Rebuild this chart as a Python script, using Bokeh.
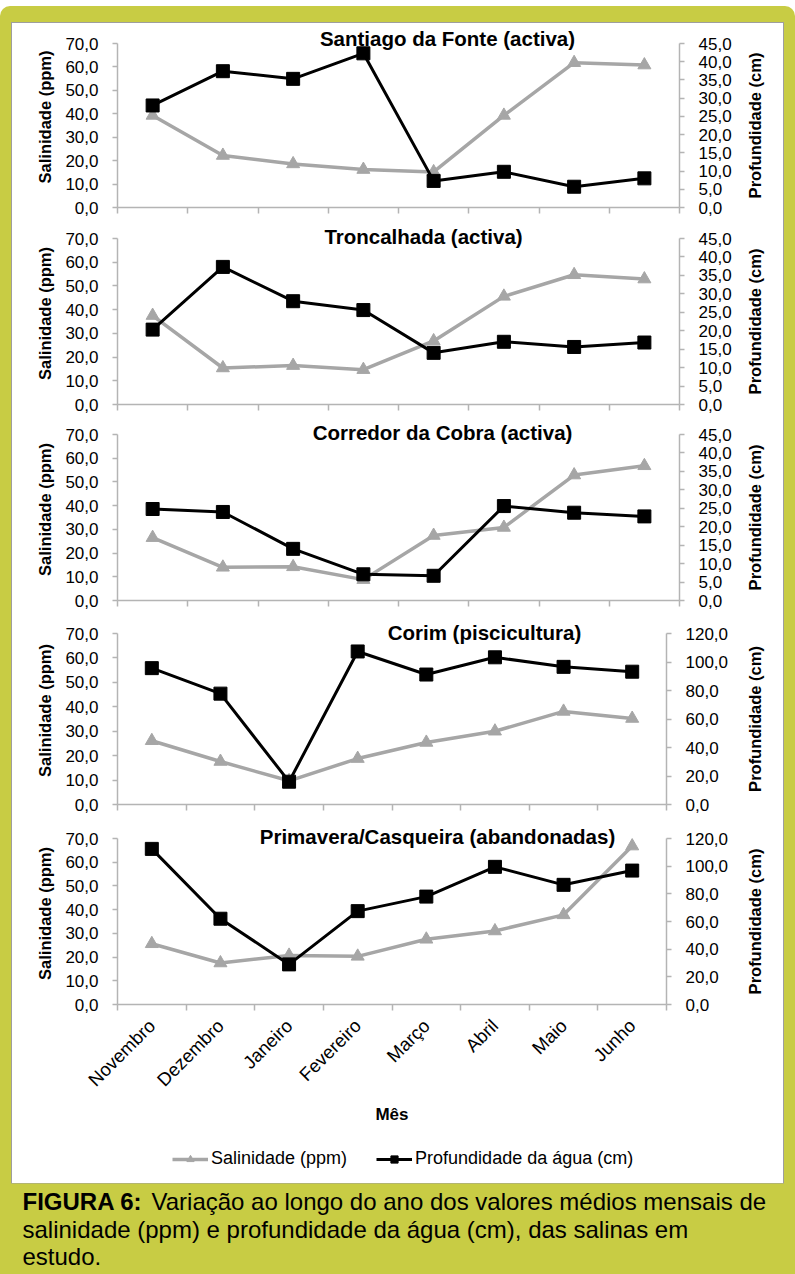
import math

from bokeh.embed import file_html
from bokeh.layouts import column, row
from bokeh.models import (ColumnDataSource, FixedTicker, Label, Legend, LegendItem,
                          LinearAxis, Range1d, Spacer)
from bokeh.plotting import figure
from bokeh.resources import INLINE

# ---------------------------------------------------------------- data
months = ["Novembro", "Dezembro", "Janeiro", "Fevereiro", "Março", "Abril", "Maio", "Junho"]

site_titles = [
    "Santiago da Fonte (activa)",
    "Troncalhada (activa)",
    "Corredor da Cobra (activa)",
    "Corim (piscicultura)",
    "Primavera/Casqueira (abandonadas)",
]

salinidade_santiago = [39.3, 22.2, 18.6, 16.2, 15.2, 39.3, 61.8, 60.8]
profundidade_santiago = [28.0, 37.4, 35.3, 42.3, 7.3, 9.8, 5.7, 8.0]

salinidade_troncalhada = [37.5, 15.4, 16.4, 14.7, 26.8, 45.6, 54.7, 52.9]
profundidade_troncalhada = [20.3, 37.3, 28.0, 25.6, 14.0, 17.0, 15.6, 16.8]

salinidade_corredor = [26.5, 14.0, 14.2, 8.8, 27.4, 30.8, 52.9, 56.8]
profundidade_corredor = [24.8, 24.0, 14.0, 7.1, 6.7, 25.6, 23.8, 22.8]

salinidade_corim = [26.1, 17.6, 9.7, 18.8, 25.4, 30.0, 38.1, 35.2]
profundidade_corim = [95.7, 77.8, 16.0, 107.4, 91.2, 103.3, 96.6, 93.2]

salinidade_primavera = [25.6, 17.5, 20.7, 20.3, 27.5, 31.0, 37.8, 66.8]
profundidade_primavera = [112.5, 62.0, 29.0, 67.5, 78.0, 99.5, 86.5, 96.8]

salinidade_ticks = [0, 10, 20, 30, 40, 50, 60, 70]
profundidade_ticks_45 = [0, 5, 10, 15, 20, 25, 30, 35, 40, 45]
profundidade_ticks_120 = [0, 20, 40, 60, 80, 100, 120]

legend_labels = ["Salinidade (ppm)", "Profundidade da água (cm)"]

caption_bold = "FIGURA 6:"
caption_lines = [
    "Variação ao longo do ano dos valores médios mensais de",
    "salinidade (ppm) e profundidade da água (cm), das salinas em",
    "estudo.",
]

# ---------------------------------------------------------------- style
GREEN = "#c8cc44"
GRAY = "#a6a6a6"
AXIS_GRAY = "#b4b4b4"
FONT = "Liberation Sans"
PANEL_W = 771            # white panel width
PANEL_LEFT = 12          # white panel left edge on the page
FRAME_LEFT = 105         # frame offset inside the white panel
RIGHT_BORDER = 61        # room for the right-hand tick labels
RLABEL_X = 754.5         # page x of the right axis title
X_CENTERS = [i + 0.5 for i in range(len(months))]


def fmt(v):
    return f"{v:.1f}".replace(".", ",")


def style_axis(ax, tick_out=5):
    ax.axis_line_color = AXIS_GRAY
    ax.axis_line_width = 1.5
    ax.major_tick_line_color = AXIS_GRAY
    ax.major_tick_line_width = 1.5
    ax.major_tick_out = tick_out
    ax.major_tick_in = 0
    ax.minor_tick_out = 0
    ax.minor_tick_in = 0
    ax.major_label_text_font = FONT
    ax.major_label_text_font_size = "17px"
    ax.major_label_text_color = "black"
    ax.major_label_standoff = 14


def blank_figure(width, height, fill, **borders):
    f = figure(width=width, height=height, x_range=Range1d(0, 1), y_range=Range1d(0, 1),
               x_axis_location=None, y_axis_location=None,
               toolbar_location=None, output_backend="svg", **borders)
    f.grid.visible = False
    f.outline_line_color = None
    f.background_fill_color = fill
    f.border_fill_color = fill
    return f


def make_panel(title, sal, prof, prof_ticks, page_top, page_70, page_0, page_bottom,
               frame_right, title_cx, title_dy, frame_pad=0):
    """One site: salinity on the left scale, water depth on the right scale."""
    prof_max = prof_ticks[-1]
    top = frame_pad
    bottom = page_bottom - page_0
    frame_top = page_top + frame_pad
    h70 = page_0 - page_70
    stretch = (page_0 - frame_top) / h70        # frame reaches above the 70 line for the title
    chart_w = frame_right - PANEL_LEFT + RIGHT_BORDER

    p = figure(width=chart_w, height=page_bottom - page_top,
               x_range=Range1d(0, len(months)), y_range=Range1d(0, 70 * stretch),
               x_axis_location=None, y_axis_location=None,
               toolbar_location=None, output_backend="svg",
               min_border_left=FRAME_LEFT, min_border_right=RIGHT_BORDER,
               min_border_top=top, min_border_bottom=bottom)
    p.grid.visible = False
    p.outline_line_color = None
    p.background_fill_color = "white"
    p.border_fill_color = "white"
    p.extra_y_ranges = {"prof": Range1d(0, prof_max * stretch)}

    # category axis: ticks on the boundaries between months
    bticks = list(range(len(months) + 1))
    xax = LinearAxis(ticker=FixedTicker(ticks=bticks),
                     major_label_overrides={t: "" for t in bticks})
    style_axis(xax, tick_out=6)
    xax.major_label_standoff = 0
    p.add_layout(xax, "below")

    lax = LinearAxis(ticker=FixedTicker(ticks=salinidade_ticks), bounds=(0, 70),
                     major_label_overrides={t: fmt(t) for t in salinidade_ticks})
    style_axis(lax)
    lax.axis_label = "Salinidade (ppm)"
    lax.axis_label_text_font = FONT
    lax.axis_label_text_font_style = "bold"
    lax.axis_label_text_font_size = "16.5px"
    lax.axis_label_text_color = "black"
    lax.axis_label_standoff = 8
    p.add_layout(lax, "left")

    rax = LinearAxis(y_range_name="prof", ticker=FixedTicker(ticks=prof_ticks),
                     bounds=(0, prof_max),
                     major_label_overrides={t: fmt(t) for t in prof_ticks})
    style_axis(rax)
    p.add_layout(rax, "right")

    src = ColumnDataSource(dict(x=X_CENTERS, sal=sal, prof=prof))
    p.line("x", "sal", source=src, line_color=GRAY, line_width=3.5)
    p.scatter("x", "sal", source=src, marker="triangle", size=13,
              fill_color=GRAY, line_color=GRAY)
    p.line("x", "prof", source=src, y_range_name="prof", line_color="black", line_width=3)
    p.scatter("x", "prof", source=src, y_range_name="prof", marker="square",
              size=13, fill_color="black", line_color="black")

    p.add_layout(Label(x=title_cx - (PANEL_LEFT + FRAME_LEFT), y=h70 + title_dy,
                       x_units="screen", y_units="screen",
                       text=title, text_font=FONT, text_font_style="bold",
                       text_font_size="20.5px", text_align="center",
                       text_baseline="middle", text_color="black"))

    # right-hand axis title, reading upwards, in its own narrow strip
    r = blank_figure(PANEL_W - chart_w, page_bottom - page_top, "white",
                     min_border_left=0, min_border_right=0,
                     min_border_top=top, min_border_bottom=bottom)
    r.add_layout(Label(x=RLABEL_X - (PANEL_LEFT + chart_w), y=h70 / 2,
                       x_units="screen", y_units="screen",
                       text="Profundidade (cm)", angle=math.pi / 2,
                       text_font=FONT, text_font_style="bold", text_font_size="16.5px",
                       text_align="center", text_baseline="middle", text_color="black"))
    return p, r


p1, r1 = make_panel(site_titles[0], salinidade_santiago, profundidade_santiago,
                    profundidade_ticks_45, 23, 43, 207, 222, 679, 447, 5, frame_pad=3)
p2, r2 = make_panel(site_titles[1], salinidade_troncalhada, profundidade_troncalhada,
                    profundidade_ticks_45, 222, 238, 404, 418, 679, 423, 2)
p3, r3 = make_panel(site_titles[2], salinidade_corredor, profundidade_corredor,
                    profundidade_ticks_45, 418, 434, 600, 616, 679, 442, 2)
p4, r4 = make_panel(site_titles[3], salinidade_corim, profundidade_corim,
                    profundidade_ticks_120, 616, 633, 804, 822, 670, 484, 1)
p5, r5 = make_panel(site_titles[4], salinidade_primavera, profundidade_primavera,
                    profundidade_ticks_120, 822, 838, 1004, 1136, 670, 437, 2)

# month names under the last panel
max_ = LinearAxis(ticker=FixedTicker(ticks=X_CENTERS),
                  major_label_overrides={x: m for x, m in zip(X_CENTERS, months)})
style_axis(max_, tick_out=0)
max_.axis_line_color = None
max_.major_tick_line_color = None
max_.major_label_text_font_size = "18.5px"
max_.major_label_orientation = math.pi / 4
max_.major_label_standoff = 12
max_.axis_label = "Mês"
max_.axis_label_text_font = FONT
max_.axis_label_text_font_style = "bold"
max_.axis_label_text_font_size = "17px"
max_.axis_label_text_color = "black"
max_.axis_label_standoff = 4
p5.add_layout(max_, "below")

# ---------------------------------------------------------------- legend strip
# legend samples: one off-screen segment per series, styled like the chart lines
lg = blank_figure(PANEL_W, 1183 - 1136, "white", min_border=0)
off = ColumnDataSource(dict(x=[-3.0, -2.0], y=[-3.0, -3.0]))
lg_gl = lg.line("x", "y", source=off, line_color=GRAY, line_width=3.5)
lg_gt = lg.scatter("x", "y", source=off, marker="triangle", size=12,
                   fill_color=GRAY, line_color=GRAY)
lg_bl = lg.line("x", "y", source=off, line_color="black", line_width=3)
lg_bs = lg.scatter("x", "y", source=off, marker="square", size=12,
                   fill_color="black", line_color="black")
legend = Legend(items=[LegendItem(label=legend_labels[0], renderers=[lg_gl, lg_gt]),
                       LegendItem(label=legend_labels[1], renderers=[lg_bl, lg_bs])],
                orientation="horizontal", location=(160, 14),
                border_line_color=None, background_fill_alpha=0,
                padding=0, margin=0, spacing=29, glyph_width=36, glyph_height=18,
                label_standoff=3, label_text_font=FONT, label_text_font_size="18px",
                label_text_color="black", label_height=20)
lg.add_layout(legend)

# ---------------------------------------------------------------- caption
cap = blank_figure(795, 91, GREEN, min_border=0)
cap_kw = dict(x_units="screen", y_units="screen", text_font=FONT, text_font_size="24px",
              text_color="black", text_baseline="middle", text_align="left")
cap.add_layout(Label(x=22, y=73, text=caption_bold, text_font_style="bold", **cap_kw))
cap.add_layout(Label(x=151, y=73, text=caption_lines[0], **cap_kw))
cap.add_layout(Label(x=22, y=45, text=caption_lines[1], **cap_kw))
cap.add_layout(Label(x=22, y=18, text=caption_lines[2], **cap_kw))

# ---------------------------------------------------------------- page
inner = column(row(p1, r1), row(p2, r2), row(p3, r3), row(p4, r4), row(p5, r5), lg,
               styles={"background-color": "white", "outline": "1px solid #9e9e9e"})
green_block = column(
    Spacer(width=795, height=17),
    row(Spacer(width=12, height=1160), inner, Spacer(width=12, height=1160)),
    cap,
    styles={"background-color": GREEN, "border-radius": "10px 10px 0 0"},
)
page = column(Spacer(width=795, height=6), green_block)

open("out.html", "w").write(file_html(page, INLINE))
